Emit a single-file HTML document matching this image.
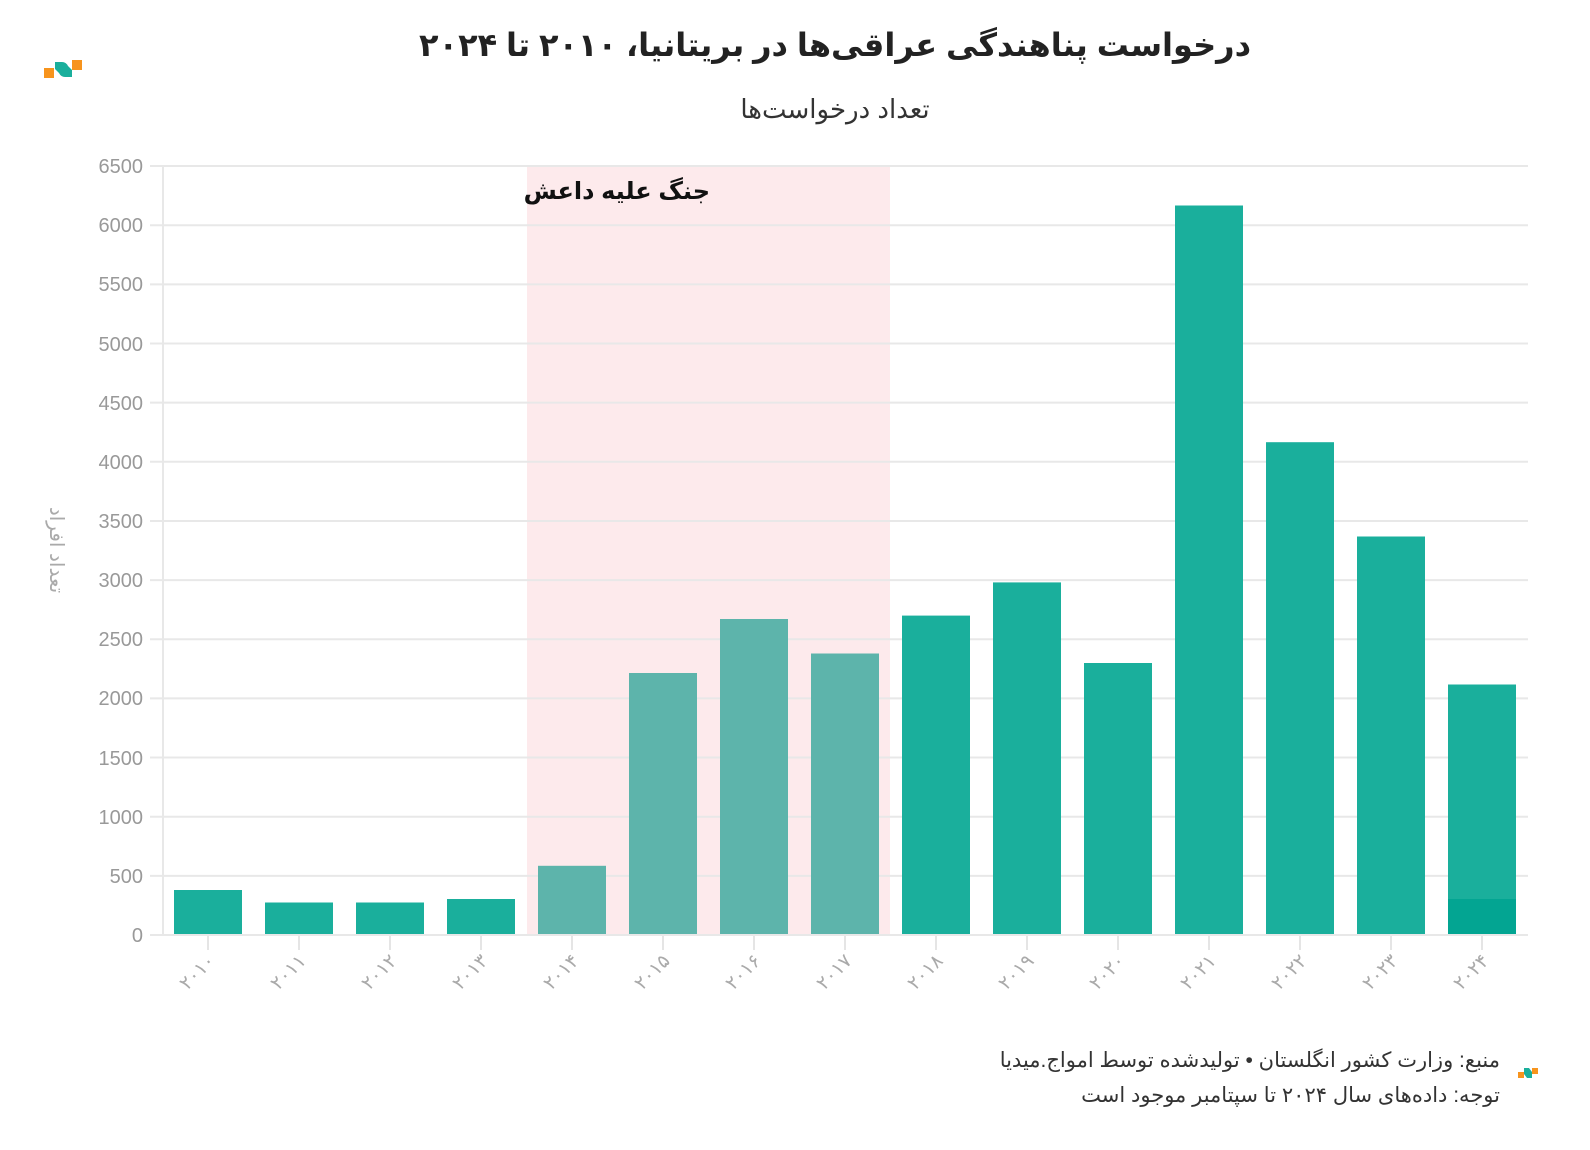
<!DOCTYPE html>
<html><head><meta charset="utf-8"><style>
html,body{margin:0;padding:0;background:#fff;}
svg{display:block;font-family:"Liberation Sans","DejaVu Sans",sans-serif;}
</style></head><body>
<svg width="1590" height="1150" viewBox="0 0 1590 1150" xmlns="http://www.w3.org/2000/svg">
<rect width="1590" height="1150" fill="#fff"/>
<rect x="44" y="68" width="10" height="10" fill="#f7941d"/>
<path d="M55 62 L62 62 Q66 62 68 66 L72 70 L72 77 L65 77 Q61 77 59 73 L55 69 Z" fill="#1aaf9c"/>
<rect x="72" y="60" width="10" height="10" fill="#f7941d"/>
<text x="835" y="56" text-anchor="middle" font-size="32" font-weight="bold" fill="#222" direction="rtl">درخواست پناهندگی عراقی‌ها در بریتانیا، ۲۰۱۰ تا ۲۰۲۴</text>
<text x="835" y="118" text-anchor="middle" font-size="26" fill="#333" direction="rtl">تعداد درخواست‌ها</text>
<rect x="527" y="166" width="363" height="769" fill="#fdeaec"/>
<g stroke="#e8e8e8" stroke-width="2">
<line x1="150" x2="1528" y1="935" y2="935"/><line x1="150" x2="1528" y1="875.85" y2="875.85"/><line x1="150" x2="1528" y1="816.7" y2="816.7"/><line x1="150" x2="1528" y1="757.55" y2="757.55"/><line x1="150" x2="1528" y1="698.4" y2="698.4"/><line x1="150" x2="1528" y1="639.25" y2="639.25"/><line x1="150" x2="1528" y1="580.1" y2="580.1"/><line x1="150" x2="1528" y1="520.95" y2="520.95"/><line x1="150" x2="1528" y1="461.8" y2="461.8"/><line x1="150" x2="1528" y1="402.65" y2="402.65"/><line x1="150" x2="1528" y1="343.5" y2="343.5"/><line x1="150" x2="1528" y1="284.35" y2="284.35"/><line x1="150" x2="1528" y1="225.2" y2="225.2"/><line x1="150" x2="1528" y1="166" y2="166"/>
<line x1="163" x2="163" y1="166" y2="935"/>
</g>
<g font-size="20" fill="#999" text-anchor="end">
<text x="143" y="942">0</text><text x="143" y="883">500</text><text x="143" y="824">1000</text><text x="143" y="765">1500</text><text x="143" y="705">2000</text><text x="143" y="646">2500</text><text x="143" y="587">3000</text><text x="143" y="528">3500</text><text x="143" y="469">4000</text><text x="143" y="410">4500</text><text x="143" y="351">5000</text><text x="143" y="291">5500</text><text x="143" y="232">6000</text><text x="143" y="173">6500</text>
</g>
<text transform="translate(50,550) rotate(90)" text-anchor="middle" font-size="20" fill="#aaa" direction="rtl">تعداد افراد</text>
<text x="710" y="199" text-anchor="start" font-size="24" font-weight="bold" fill="#111" direction="rtl">جنگ علیه داعش</text>
<g fill="#1aaf9c">
<rect x="174" y="890" width="68" height="45"/>
<rect x="265" y="902.5" width="68" height="32.5"/>
<rect x="356" y="902.5" width="68" height="32.5"/>
<rect x="447" y="899" width="68" height="36"/>
<rect x="902" y="615.6" width="68" height="319.4"/>
<rect x="993" y="582.4" width="68" height="352.6"/>
<rect x="1084" y="663" width="68" height="272"/>
<rect x="1175" y="205.5" width="68" height="729.5"/>
<rect x="1266" y="442.2" width="68" height="492.8"/>
<rect x="1357" y="536.5" width="68" height="398.5"/>
<rect x="1448" y="684.5" width="68" height="250.5"/>
</g>
<rect x="1448" y="899" width="68" height="36" fill="#03a592"/>
<g fill="#5db4ab">
<rect x="538" y="865.8" width="68" height="69.2"/>
<rect x="629" y="673" width="68" height="262"/>
<rect x="720" y="619" width="68" height="316"/>
<rect x="811" y="653.5" width="68" height="281.5"/>
</g>
<line x1="150" x2="1528" y1="935" y2="935" stroke="#e8e8e8" stroke-width="2"/>
<g stroke="#e5e5e5" stroke-width="2">
<line x1="208" x2="208" y1="936" y2="950"/><line x1="299" x2="299" y1="936" y2="950"/><line x1="390" x2="390" y1="936" y2="950"/><line x1="481" x2="481" y1="936" y2="950"/><line x1="572" x2="572" y1="936" y2="950"/><line x1="663" x2="663" y1="936" y2="950"/><line x1="754" x2="754" y1="936" y2="950"/><line x1="845" x2="845" y1="936" y2="950"/><line x1="936" x2="936" y1="936" y2="950"/><line x1="1027" x2="1027" y1="936" y2="950"/><line x1="1118" x2="1118" y1="936" y2="950"/><line x1="1209" x2="1209" y1="936" y2="950"/><line x1="1300" x2="1300" y1="936" y2="950"/><line x1="1391" x2="1391" y1="936" y2="950"/><line x1="1482" x2="1482" y1="936" y2="950"/>
</g>
<g font-size="19" fill="#aaa" text-anchor="end">
<text transform="translate(216,962) rotate(-45)">۲۰۱۰</text>
<text transform="translate(307,962) rotate(-45)">۲۰۱۱</text>
<text transform="translate(398,962) rotate(-45)">۲۰۱۲</text>
<text transform="translate(489,962) rotate(-45)">۲۰۱۳</text>
<text transform="translate(580,962) rotate(-45)">۲۰۱۴</text>
<text transform="translate(671,962) rotate(-45)">۲۰۱۵</text>
<text transform="translate(762,962) rotate(-45)">۲۰۱۶</text>
<text transform="translate(853,962) rotate(-45)">۲۰۱۷</text>
<text transform="translate(944,962) rotate(-45)">۲۰۱۸</text>
<text transform="translate(1035,962) rotate(-45)">۲۰۱۹</text>
<text transform="translate(1126,962) rotate(-45)">۲۰۲۰</text>
<text transform="translate(1217,962) rotate(-45)">۲۰۲۱</text>
<text transform="translate(1308,962) rotate(-45)">۲۰۲۲</text>
<text transform="translate(1399,962) rotate(-45)">۲۰۲۳</text>
<text transform="translate(1490,962) rotate(-45)">۲۰۲۴</text>
</g>
<text x="1500" y="1067" text-anchor="start" font-size="21" fill="#333" direction="rtl">منبع: وزارت کشور انگلستان • تولیدشده توسط امواج.میدیا</text>
<text x="1500" y="1102" text-anchor="start" font-size="21" fill="#333" direction="rtl">توجه: داده‌های سال ۲۰۲۴ تا سپتامبر موجود است</text>
<rect x="1518" y="1072" width="6" height="6" fill="#f7941d"/>
<path d="M1524 1068 L1529 1068 L1532 1072 L1532 1078 L1527 1078 L1524 1074 Z" fill="#1aaf9c"/>
<rect x="1532" y="1068" width="6" height="6" fill="#f7941d"/>
</svg>
</body></html>
